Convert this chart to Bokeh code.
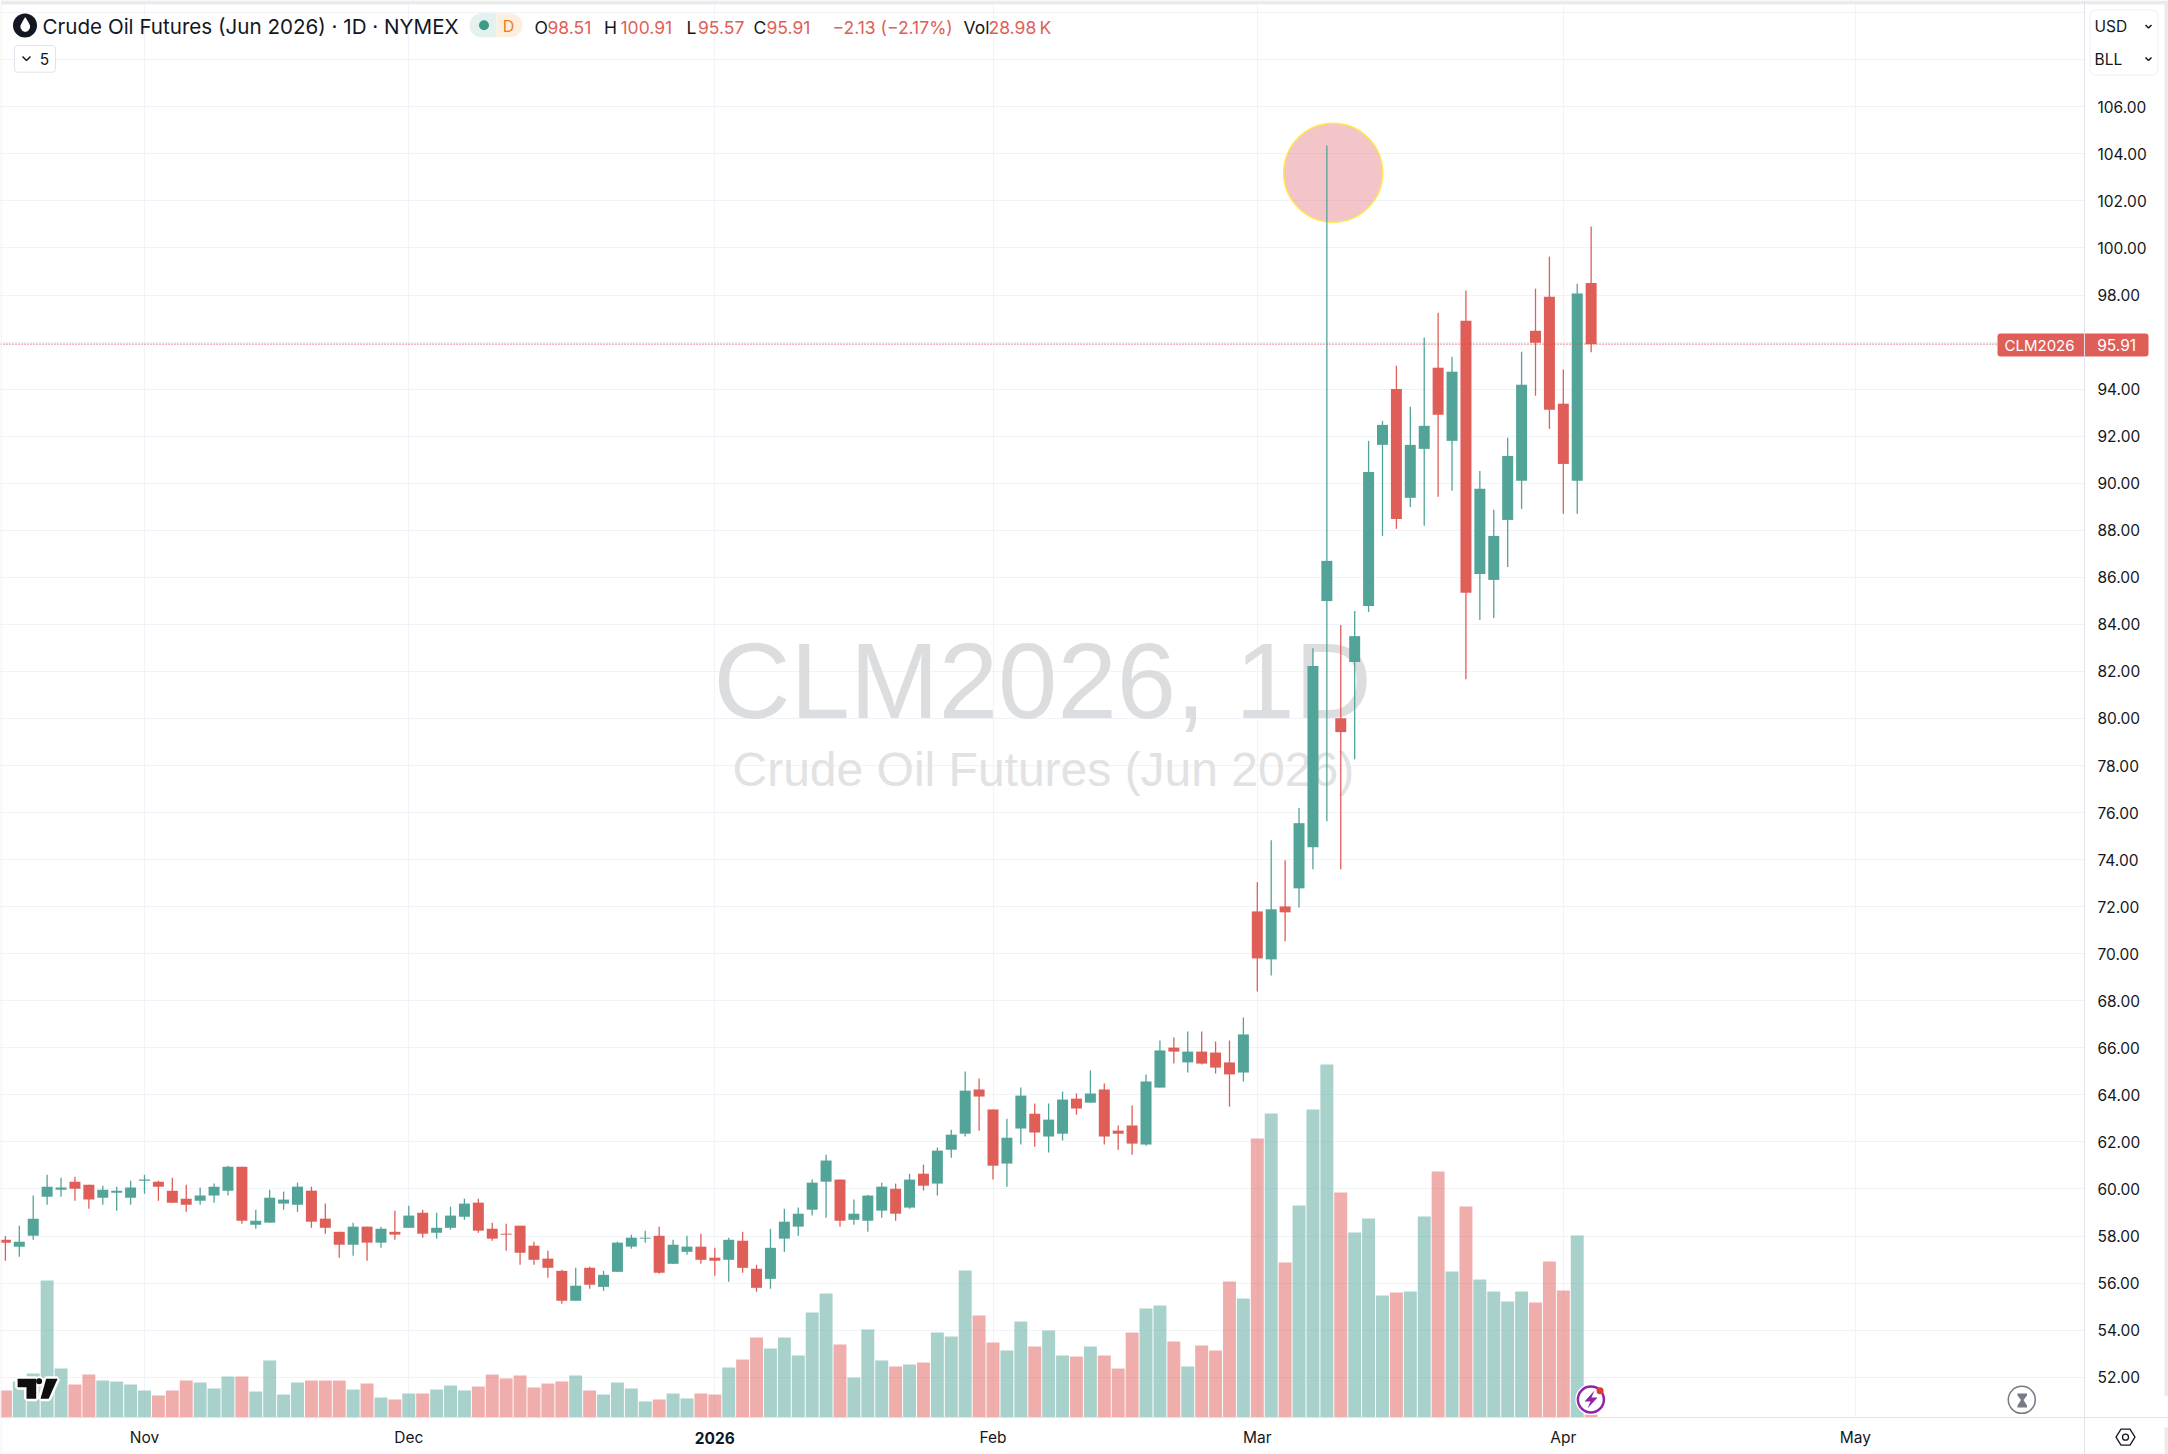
from bokeh.plotting import figure
from bokeh.embed import file_html
from bokeh.resources import INLINE
from bokeh.core.properties import value
from bokeh.models import Range1d, FixedTicker, NumeralTickFormatter

opens = [57.84,57.55,58.01,59.67,59.97,60.31,60.18,59.63,59.84,59.63,
 60.35,60.31,59.93,59.59,59.50,59.72,59.93,60.95,58.48,58.57,
 59.38,59.33,59.93,58.74,58.18,57.63,58.40,57.72,58.18,58.35,
 58.99,58.14,58.35,58.82,59.42,58.31,58.10,58.44,57.59,57.04,
 56.52,55.25,56.65,55.84,56.48,57.55,57.89,58.01,56.82,57.33,
 57.55,57.08,56.99,57.80,56.61,56.18,57.89,58.40,59.12,60.31,
 60.40,58.69,58.65,59.08,60.01,59.21,60.65,60.23,61.67,62.35,
 64.23,63.38,61.08,62.57,63.20,62.23,62.35,63.84,63.67,64.23,
 62.48,62.70,61.89,64.31,66.01,65.38,65.84,65.80,65.38,64.95,
 71.80,69.76,72.01,72.78,74.53,84.99,80.01,82.40,84.78,91.63,
 94.01,89.38,91.46,94.91,91.80,96.91,86.14,85.89,88.44,90.10,
 96.48,97.93,93.38,90.10,98.51]
closes = [57.72,57.76,58.74,60.10,60.06,60.01,59.55,59.97,59.93,60.06,
 60.40,60.10,59.42,59.33,59.72,60.10,60.95,58.65,58.65,59.63,
 59.55,60.10,58.61,58.35,57.63,58.40,57.72,58.31,58.06,58.87,
 58.10,58.35,58.87,59.38,58.23,57.89,58.06,57.29,56.99,56.65,
 55.25,55.89,55.93,56.35,57.72,57.93,57.93,56.44,57.63,57.55,
 56.99,56.95,57.84,56.65,55.80,57.50,58.61,58.95,60.27,61.21,
 58.65,58.95,59.72,60.10,58.95,60.40,60.14,61.63,62.31,64.18,
 63.93,60.99,62.18,63.97,62.40,62.95,63.80,63.42,64.06,62.23,
 62.35,61.93,64.57,65.89,65.84,65.84,65.33,65.16,64.87,66.57,
 69.80,71.89,71.76,75.55,82.23,86.70,79.42,83.50,90.48,92.48,
 88.48,91.63,92.44,92.91,94.74,85.34,89.76,87.76,91.16,94.19,
 95.97,93.12,90.82,98.06,95.91]
highs = [58.00,58.44,59.72,60.61,60.48,60.52,60.18,60.14,60.10,60.35,
 60.61,60.35,60.48,60.18,60.06,60.23,60.99,60.95,59.12,59.97,
 59.89,60.27,60.10,59.38,58.18,58.57,58.40,58.40,59.08,59.29,
 59.12,58.99,59.25,59.59,59.59,58.57,58.52,58.44,57.76,57.38,
 56.57,56.65,56.70,56.52,57.76,58.06,58.23,58.40,57.84,58.01,
 58.10,57.50,57.93,58.18,56.78,58.31,59.16,59.21,60.40,61.46,
 60.40,59.55,59.76,60.27,60.23,60.65,61.04,61.76,62.52,64.99,
 64.70,63.38,62.99,64.31,63.63,63.63,64.14,64.06,65.04,64.48,
 62.70,63.55,64.87,66.31,66.44,66.69,66.69,66.27,66.31,67.29,
 73.04,74.82,73.97,76.19,82.99,104.35,83.97,84.57,91.80,92.65,
 94.99,93.25,96.19,97.25,95.38,98.19,90.52,88.87,91.93,95.59,
 98.27,99.63,94.83,98.48,100.91]
lows = [56.95,57.12,57.84,59.33,59.67,59.50,59.16,59.33,59.08,59.33,
 59.80,59.50,59.42,59.03,59.33,59.42,59.72,58.52,58.31,58.57,
 59.12,59.03,58.35,58.10,57.08,57.16,56.95,57.50,57.84,58.35,
 57.93,57.89,58.27,58.69,58.14,57.80,57.38,56.78,56.78,56.23,
 55.12,55.25,55.76,55.67,56.48,57.46,57.72,56.40,56.82,57.21,
 56.82,56.31,56.06,56.44,55.63,55.76,57.33,58.01,58.87,58.78,
 58.40,58.48,58.18,58.78,58.65,59.16,59.93,59.72,61.33,62.23,
 62.48,60.40,60.10,61.89,61.80,61.55,62.06,63.16,63.67,61.89,
 61.67,61.46,61.84,64.31,65.33,64.95,65.29,64.91,63.50,64.57,
 68.40,69.08,70.53,71.97,73.59,75.63,73.59,78.27,84.53,87.76,
 88.06,88.99,88.19,89.42,89.68,81.67,84.19,84.27,86.44,88.91,
 93.72,92.31,88.70,88.70,95.57]
volumes_k = [261,348,425,1323,473,319,415,357,348,319,
 261,213,261,357,338,280,396,396,251,551,
 222,338,357,357,357,270,328,193,174,232,
 232,270,309,261,299,415,377,406,290,328,
 348,406,261,222,338,280,155,174,232,184,
 232,222,483,560,773,667,773,599,1014,1198,
 705,386,850,551,493,512,531,821,782,1420,
 985,725,647,927,686,840,599,589,686,599,
 473,821,1053,1082,734,493,696,647,1314,1150,
 2695,2937,1497,2048,2975,3410,2174,1787,1922,1179,
 1208,1217,1942,2376,1410,2038,1333,1217,1121,1217,
 1111,1507,1227,1758,28.98]

month_index = [10, 29, 51, 71, 90, 112, 133]
month_labels = ["Nov", "Dec", "", "Feb", "Mar", "Apr", "May"]
year_label = "2026"
price_ticks = [p for p in range(52, 108, 2) if p != 96]
grid_ticks = list(range(50, 112, 2))
last_price = 95.91

RED = "#DF5E58"
GREEN = "#53A498"
INK = "#131722"
FONT = "Inter"
W, H = 2168, 1454
AXIS_X, AXIS_Y = 2084, 1417
K_PER_PX = 9.66


def X(px):
    return (px - 4.9) / 13.91


def Y(py):
    return 106 - (py - 106.3) / 23.526


p = figure(width=W, height=H, frame_width=W, frame_height=H, output_backend="svg", toolbar_location=None,
           x_range=Range1d(X(0), X(W)), y_range=Range1d(Y(H), Y(0)),
           y_axis_location="right", min_border=0, outline_line_color=None,
           background_fill_color="white", border_fill_color="white", margin=(0, 0, 0, 0))
p.extra_y_ranges = {"vol": Range1d((AXIS_Y - H) * K_PER_PX, AXIS_Y * K_PER_PX)}

p.xgrid.ticker = FixedTicker(ticks=month_index)
p.ygrid.ticker = FixedTicker(ticks=grid_ticks)
for g in (p.xgrid[0], p.ygrid[0]):
    g.grid_line_color = "#F0F3FA"
    g.grid_line_width = 1

xa = p.xaxis[0]
xa.fixed_location = Y(AXIS_Y)
xa.ticker = FixedTicker(ticks=month_index)
xa.major_label_overrides = {i: t for i, t in zip(month_index, month_labels)}
xa.major_label_standoff = 4

ya = p.yaxis[0]
ya.fixed_location = X(AXIS_X)
ya.ticker = FixedTicker(ticks=price_ticks)
ya.formatter = NumeralTickFormatter(format="0.00")
ya.major_label_standoff = 7

for a in (xa, ya):
    a.major_tick_line_color = None
    a.minor_tick_line_color = None
    a.axis_line_color = "#E0E3EB"
    a.major_label_text_color = INK
    a.major_label_text_font = FONT
    a.major_label_text_font_size = "15.5px"


def tx(px, py, text, color=INK, size=16, font=FONT, align="left", base="middle", style="normal"):
    p.text([X(px)], [Y(py)], text=[text], text_color=color, text_font=value(font),
           text_font_size=f"{size}px", text_align=align, text_baseline=base, text_font_style=style)


def poly(pts, **kw):
    p.patch([X(a) for a, _ in pts], [Y(b) for _, b in pts], **kw)


def rect(x0, x1, y0, y1, fill=None, line=None, radius=0):
    p.quad(left=[X(x0)], right=[X(x1)], top=[Y(y0)], bottom=[Y(y1)], fill_color=fill,
           fill_alpha=1 if fill else 0, line_color=line, border_radius=radius)


# panes beyond the plotting area hide the grid there
rect(AXIS_X, W, 0, H, fill="white")
rect(0, W, AXIS_Y, H, fill="white")

# watermark
tx(713, 680, "CLM2026, 1D", color="#DCDDDF", size=106.7, font="Liberation Sans")
tx(732, 769, "Crude Oil Futures (Jun 2026)", color="#E1E2E4", size=48, font="Liberation Sans")

# volume, price
idx = list(range(len(opens)))
colors = [GREEN if c >= o else RED for o, c in zip(opens, closes)]
p.vbar(x=idx, top=volumes_k, bottom=0, width=0.93, fill_color=colors, fill_alpha=0.5,
       line_color=None, y_range_name="vol")

# highlight circle
p.scatter([X(1332.7)], [Y(172.3)], size=99, marker="circle", fill_color="#DD5965", fill_alpha=0.35,
          line_color="#FFE94D", line_width=1.5)

p.segment(x0=idx, y0=lows, x1=idx, y1=highs, line_color=colors, line_width=1.3)
p.vbar(x=idx, top=[max(a, b) for a, b in zip(opens, closes)],
       bottom=[min(a, b) for a, b in zip(opens, closes)],
       width=0.79, fill_color=colors, line_color=None)

p.line([X(0), X(1997)], [last_price, last_price], line_color="#E0483F", line_width=1.3, line_dash="1 2")

# header
p.scatter([X(24.5)], [Y(25)], size=24, marker="circle", fill_color="#131722", line_color=None)
poly([(24.7, 16.5), (27.5, 21), (29.5, 25), (29.5, 27.5), (27.5, 30.5), (24.7, 31.5), (22, 30.5),
      (20, 27.5), (20, 25), (22, 21)], fill_color="white", line_color=None)
tx(42, 26, "Crude Oil Futures (Jun 2026) · 1D · NYMEX", size=20.6)
# status pill
p.scatter([X(481)], [Y(24.7)], size=24, marker="circle", fill_color="#E4F1EE", line_color=None)
p.scatter([X(510)], [Y(24.7)], size=24, marker="circle", fill_color="#FDEFE0", line_color=None)
rect(481, 496, 12.7, 36.7, fill="#E4F1EE")
rect(496, 510, 12.7, 36.7, fill="#FDEFE0")
p.scatter([X(483.5)], [Y(24.7)], size=10, marker="circle", fill_color="#3F9A85", line_color=None)
tx(508, 25, "D", color="#EE7B1E", size=16, align="center")

red_text = [(547, "98.51"), (620, "100.91"), (697.5, "95.57"), (766, "95.91"),
            (832, "\u22122.13 (\u22122.17%)"), (988, "28.98\u2009K")]
for px_, t in [(534, "O"), (603.5, "H"), (686, "L"), (753, "C"), (963, "Vol")]:
    tx(px_, 27, t, size=17.5)
for px_, t in red_text:
    tx(px_, 27, t, color=RED, size=17.5)

# collapse button
rect(14, 55, 45, 71.7, fill="white", line="#E0E3EB", radius=3)
p.line([X(22), X(26), X(30)], [Y(56), Y(60), Y(56)], line_color=INK, line_width=1.5)
tx(44, 58, "5", size=15.5, align="center")

# TradingView logo
logo_t = [(17.1, 1378.3), (35.7, 1378.3), (35.7, 1398.3), (26, 1398.3), (26, 1386.7), (17.1, 1386.7)]
logo_s = [(45.7, 1378.3), (57.1, 1378.3), (48.2, 1398.3), (40, 1398.3)]
for shape in (logo_t, logo_s):
    poly(shape, fill_color="white", line_color="white", line_width=5)
p.scatter([X(38.6)], [Y(1380.7)], size=10, marker="circle", fill_color="white", line_color=None)
for shape in (logo_t, logo_s):
    poly(shape, fill_color="#0F0F0F", line_color=None)
p.scatter([X(38.6)], [Y(1380.7)], size=6, marker="circle", fill_color="#0F0F0F", line_color=None)

# lightning badge
p.scatter([X(1590.4)], [Y(1399)], size=31, marker="circle", fill_color="white", line_color=None)
p.scatter([X(1590.4)], [Y(1399)], size=26, marker="circle", fill_color="white", line_color="#8E24AA", line_width=2.5)
poly([(1594, 1390), (1584, 1401), (1590, 1401), (1587, 1408), (1597, 1397), (1591, 1397)],
     fill_color="#8E24AA", line_color=None)
p.scatter([X(1599.6)], [Y(1390.3)], size=7, marker="circle", fill_color="#E53935", line_color=None)

# hourglass badge
p.scatter([X(2021.3)], [Y(1399.3)], size=27, marker="circle", fill_color="white", line_color="#787B86", line_width=1.5)
poly([(2017, 1393), (2026.5, 1393), (2026.5, 1395), (2023, 1399.5), (2026.5, 1405), (2026.5, 1407),
      (2017, 1407), (2017, 1405), (2020.5, 1399.5), (2017, 1395)], fill_color="#787B86", line_color=None)

# page edge
rect(0, W, 0, 4, fill="#EBEBEB")
rect(2164, W, 0, H, fill="#EBEBEB")
rect(2163, W, 1395, 1427, fill="white", radius=3)
rect(0, 1, 4, H, fill="#EFEFEF")

# currency selector
rect(2089.5, 2157.5, 9.5, 74.5, line="#EEEFF3", radius=6)
tx(2094, 26, "USD", size=15.5)
tx(2094, 59, "BLL", size=15.5)
for cy in (26, 58.5):
    p.line([X(2145), X(2148), X(2151)], [Y(cy - 1.5), Y(cy + 1.5), Y(cy - 1.5)], line_color=INK, line_width=1.5)

# price tag
rect(1997, 2148, 333, 356, fill=RED, radius=3)
tx(2004, 344.8, "CLM2026", color="white", size=15)
tx(2096.7, 344.8, f"{last_price:.2f}", color="white", size=15.5)

# bold year label on the time scale
tx(714.3, 1437, year_label, size=15.5, align="center", style="bold")

# settings glyph
cx, cy = 2125, 1436.7
poly([(cx - 9.5, cy), (cx - 4.5, cy - 8), (cx + 4.5, cy - 8), (cx + 9.5, cy), (cx + 4.5, cy + 8), (cx - 4.5, cy + 8)],
     fill_alpha=0, line_color=INK, line_width=1.3)
p.scatter([X(cx)], [Y(cy)], size=6, marker="circle", fill_alpha=0, line_color=INK, line_width=1.3)

open("out.html", "w").write(file_html(p, INLINE))
